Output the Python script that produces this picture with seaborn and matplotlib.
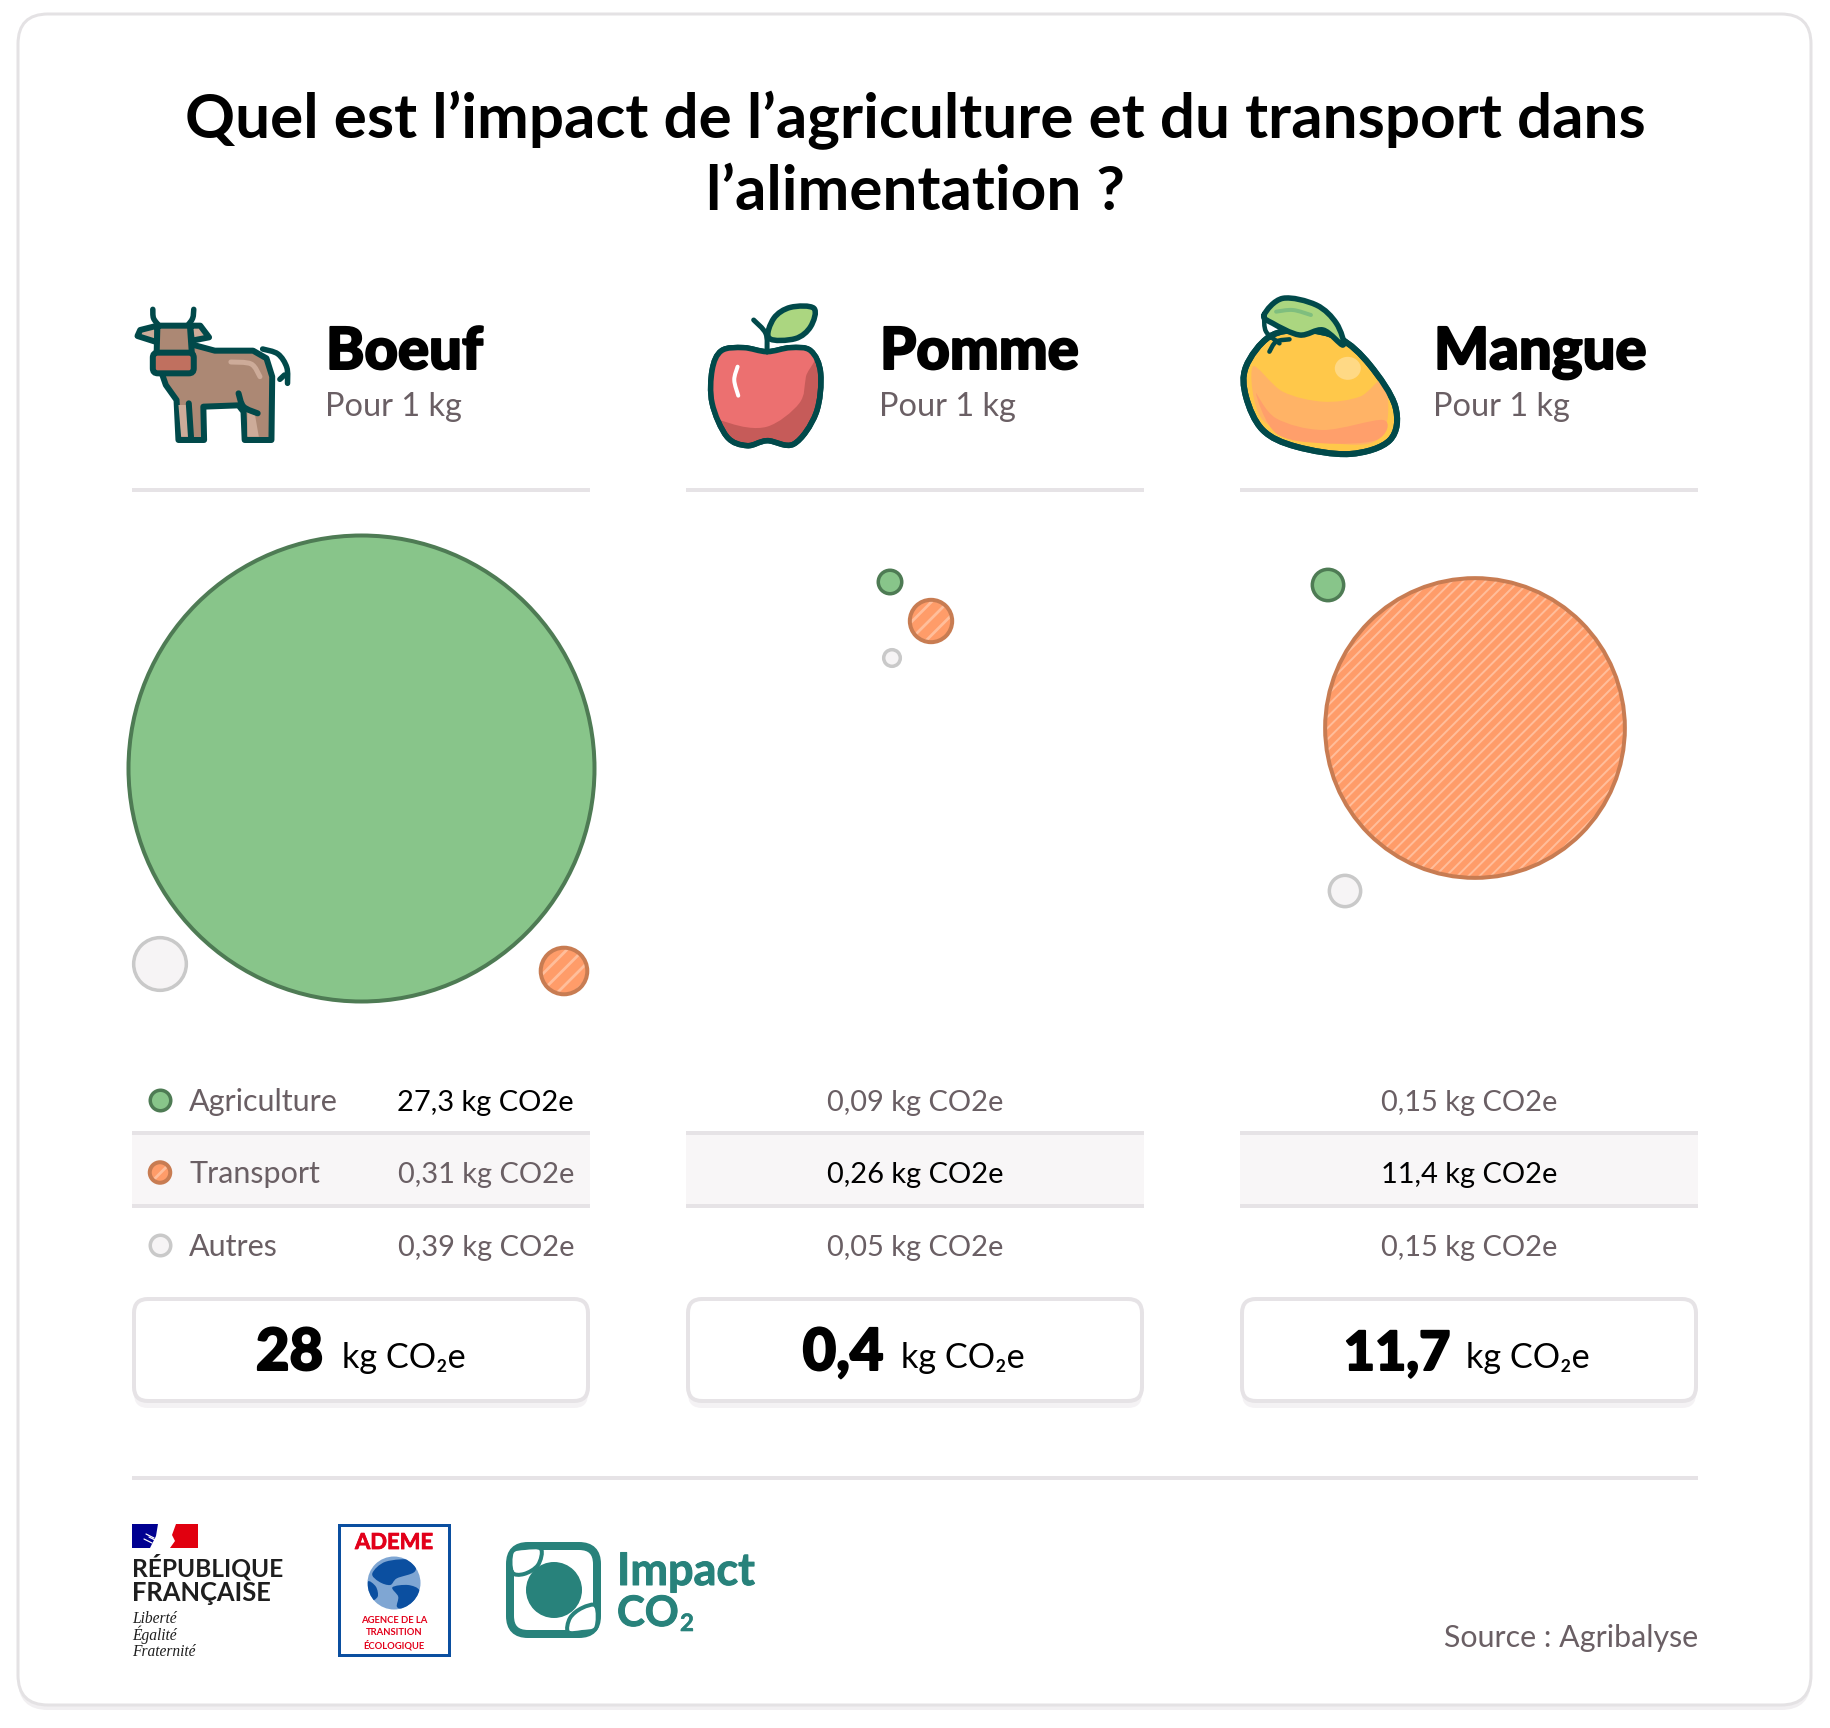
import numpy as np
import pandas as pd
import seaborn as sns
import matplotlib.pyplot as plt
import matplotlib.patheffects as pe
from matplotlib.patches import FancyBboxPatch, PathPatch, Rectangle, Ellipse
from matplotlib.path import Path

# values
foods = ['Boeuf', 'Pomme', 'Mangue']
agriculture = [27.3, 0.09, 0.15]
transport = [0.31, 0.26, 11.4]
autres = [0.39, 0.05, 0.15]
totals = [28, 0.4, 11.7]
kinds = ['Agriculture', 'Transport', 'Autres']

# bubble centres as they sit on the picture, in pixels
agriculture_x = [361, 890, 1328]
agriculture_y = [768, 582, 585]
transport_x = [564, 931, 1475]
transport_y = [971, 621, 728]
autres_x = [160, 892, 1345]
autres_y = [964, 658, 891]

DARK = '#01494A'
GREY = '#6A5F64'
RULE = '#E6E3E6'
TEAL = '#28827B'
RED = '#E2001A'
BLUE = '#0B4FA0'
PX = 0.72  # px to pt at dpi 100
R_TOP = 235  # outer radius of the biggest bubble

sns.set_theme(style='white')
plt.rcParams['font.family'] = ['Lato', 'DejaVu Sans']

fig = plt.figure(figsize=(18.3, 17.28), dpi=100)
ax = fig.add_axes([0, 0, 1, 1])


def txt(x, y, s, size, color='black', weight='normal', ha='left', heavy=0, **kw):
    t = ax.text(x, y, s, fontsize=size * PX, color=color, fontweight=weight,
                ha=ha, va='baseline', zorder=6, **kw)
    if heavy:
        t.set_path_effects([pe.withStroke(linewidth=heavy * PX, foreground=color)])
    return t


def rule(x0, x1, y):
    ax.add_patch(Rectangle((x0, y - 2), x1 - x0, 4, fc=RULE, ec='none', zorder=2))


def round_box(x0, y0, x1, y1, r, fc, ec, lw, z=1):
    p = FancyBboxPatch((x0, y0), x1 - x0, y1 - y0, boxstyle=f'round,pad=0,rounding_size={r}',
                       fc=fc, ec=ec, lw=lw * PX, zorder=z)
    ax.add_patch(p)
    return p


def smooth_path(pts, closed=True):
    # catmull-rom through the points, turned into bezier segments
    pts = np.array(pts, dtype=float)
    n = len(pts)
    verts = [pts[0]]
    codes = [Path.MOVETO]
    last = n if closed else n - 1
    for i in range(last):
        if closed:
            p0, p1, p2, p3 = pts[i - 1], pts[i], pts[(i + 1) % n], pts[(i + 2) % n]
        else:
            p0, p1, p2, p3 = pts[max(i - 1, 0)], pts[i], pts[i + 1], pts[min(i + 2, n - 1)]
        verts += [p1 + (p2 - p0) / 6, p2 - (p3 - p1) / 6, p2]
        codes += [Path.CURVE4] * 3
    return Path(verts, codes)


def blob(pts, fc, ec='none', lw=0, z=5, closed=True, clip=None):
    p = PathPatch(smooth_path(pts, closed), fc=fc if closed else 'none', ec=ec, lw=lw * PX,
                  zorder=z, capstyle='round', joinstyle='round')
    ax.add_patch(p)
    if clip is not None:
        p.set_clip_path(clip)
    return p


def poly(pts, fc, ec=DARK, lw=6, z=5):
    p = PathPatch(Path(pts), fc=fc, ec=ec, lw=lw * PX, zorder=z, joinstyle='round', capstyle='round')
    ax.add_patch(p)
    return p


def cow_pts(pts):
    return [(100 + x / 2.613, 280 + y / 3) for x, y in pts]


def fruit_pts(pts):
    return [(680 + x / 1.493, 280 + y / 3) for x, y in pts]


def logo_pts(pts):
    return [(100 + x / 2.24, 1500 + y / 3) for x, y in pts]


def draw_cow():
    body = [(245, 195), (300, 212), (400, 212), (435, 235), (450, 290), (448, 480), (378, 480),
            (375, 395), (362, 376), (270, 380), (272, 480), (205, 480), (200, 360), (172, 315),
            (160, 275), (150, 200)]
    poly(cow_pts(body + [body[0]]), '#AC8874')
    poly(cow_pts([(205, 375), (232, 375), (238, 470), (212, 470)]), '#CDAB99', ec='none', lw=0, z=5.1)
    poly(cow_pts([(385, 395), (405, 405), (415, 470), (385, 470)]), '#CDAB99', ec='none', lw=0, z=5.1)
    blob(cow_pts([(232, 370), (238, 475)]), 'none', DARK, 6, 5.2, closed=False)
    blob(cow_pts([(362, 340), (375, 380), (412, 400)]), 'none', DARK, 6, 5.2, closed=False)
    blob(cow_pts([(342, 246), (395, 252), (418, 290)]), 'none', '#CDAB99', 5, 5.2, closed=False)
    # tail
    blob(cow_pts([(425, 207), (465, 222), (488, 262), (490, 310)]), 'none', DARK, 5.5, 5, closed=False)
    blob(cow_pts([(482, 285), (470, 298)]), 'none', DARK, 5.5, 5, closed=False)
    # ears and horns
    poly(cow_pts([(150, 137), (105, 150), (98, 168), (150, 187), (150, 137)]), '#CDAB99', z=5.3)
    poly(cow_pts([(235, 137), (262, 137), (285, 172), (240, 182), (235, 137)]), '#CDAB99', z=5.3)
    blob(cow_pts([(138, 88), (140, 115), (155, 138)]), 'none', DARK, 5.5, 5.3, closed=False)
    blob(cow_pts([(245, 88), (242, 115), (228, 138)]), 'none', DARK, 5.5, 5.3, closed=False)
    poly(cow_pts([(150, 137), (235, 137), (240, 220), (148, 220), (150, 137)]), '#AC8874', z=5.4)
    # muzzle
    x0, y0 = cow_pts([(138, 218)])[0]
    x1, y1 = cow_pts([(245, 280)])[0]
    round_box(x0, y0, x1, y1, 5, '#C0705F', DARK, 6, z=5.5)


def draw_apple():
    shape = [(130, 215), (165, 203), (195, 212), (210, 280), (203, 400), (170, 492), (130, 482),
             (100, 497), (70, 470), (48, 370), (48, 270), (62, 212), (95, 203)]
    edge = blob(fruit_pts(shape), '#C65B59', DARK, 5.5, 5)
    blob(fruit_pts([(40, 200), (195, 200), (188, 290), (178, 370), (130, 440), (75, 430), (40, 380)]),
         '#EC7070', z=5.1, clip=edge)
    blob(fruit_pts(shape), 'none', DARK, 5.5, 5.2).set_facecolor('none')
    blob(fruit_pts([(86, 260), (81, 300), (87, 347)]), 'none', 'white', 4, 5.3, closed=False)
    blob(fruit_pts([(110, 120), (128, 160), (130, 212)]), 'none', DARK, 5, 5.3, closed=False)
    blob(fruit_pts([(133, 175), (140, 115), (165, 82), (200, 85), (195, 140), (172, 176)]),
         '#ABD680', DARK, 5.5, 5.4)


def draw_mango():
    shape = [(880, 170), (930, 150), (985, 175), (1030, 255), (1068, 380), (1060, 480), (1000, 522),
             (920, 500), (870, 450), (845, 350), (845, 260)]
    edge = blob(fruit_pts(shape), '#FFC84A', DARK, 6, 5)
    blob(fruit_pts([(855, 260), (900, 335), (960, 365), (1015, 350), (1050, 300), (1056, 420), (1030, 490),
                    (950, 480), (870, 420)]), '#FFB366', z=5.1, clip=edge)
    blob(fruit_pts([(860, 340), (890, 415), (960, 450), (1050, 420), (1040, 480), (960, 490), (890, 460)]),
         '#FF9F6B', z=5.2, clip=edge)
    ax.add_patch(Ellipse((680 + 997 / 1.493, 280 + 265 / 3), 26, 23, fc='#FFD985', ec='none', zorder=5.2))
    blob(fruit_pts(shape), 'none', DARK, 6, 5.3).set_facecolor('none')
    blob(fruit_pts([(872, 105), (900, 55), (950, 75), (980, 130), (990, 195), (960, 150), (925, 165), (885, 130)]),
         '#ABD680', DARK, 5.5, 5.4)
    blob(fruit_pts([(890, 95), (915, 90), (942, 105)]), 'none', '#7FBE7E', 4, 5.5, closed=False)
    blob(fruit_pts([(872, 110), (875, 155), (895, 190)]), 'none', DARK, 4.5, 5.5, closed=False)
    blob(fruit_pts([(880, 215), (890, 185), (910, 178)]), 'none', DARK, 4.5, 5.5, closed=False)


def draw_logos():
    # republique francaise
    ax.add_patch(Rectangle((132, 1524), 30, 24, fc='#000091', ec='none', zorder=5))
    ax.add_patch(Rectangle((165, 1524), 33, 24, fc='#E1000F', ec='none', zorder=5))
    poly([(158, 1524), (176, 1524), (172, 1535), (175, 1541), (170, 1548), (150, 1548), (156, 1536), (158, 1524)],
         'white', ec='none', lw=0, z=5.1)
    for dx, dy in [(0, 0), (3, 3), (-2, 5)]:
        blob([(146 + dx, 1534 + dy), (154 + dx, 1538 + dy)], 'none', 'white', 1.2, 5.2, closed=False)
    txt(132, 1576, 'RÉPUBLIQUE', 24.5, '#1E1E1E', 'bold')
    txt(132, 1601, 'FRANÇAISE', 25.5, '#1E1E1E', 'bold')
    for y, s in zip([1623, 1640, 1656], ['Liberté', 'Égalité', 'Fraternité']):
        ax.text(132, y, s, fontsize=15.5 * PX, family='Liberation Serif', style='italic', color='#1E1E1E',
                zorder=6)

    # ademe
    ax.add_patch(Rectangle((339, 1525), 110, 130, fc='white', ec=BLUE, lw=3 * PX, zorder=5))
    txt(394, 1549, 'ADEME', 22, RED, 'bold', ha='center', heavy=0.8)
    globe = Ellipse((394, 1583), 53, 53, fc='#7FA6D3', ec='none', zorder=5.1)
    ax.add_patch(globe)
    blob(logo_pts([(610, 220), (640, 185), (700, 180), (705, 215), (665, 235), (650, 255), (625, 245)]),
         BLUE, z=5.2, clip=globe)
    blob(logo_pts([(655, 262), (690, 255), (715, 270), (705, 300), (680, 325), (665, 320), (668, 290)]),
         BLUE, z=5.2, clip=globe)
    blob(logo_pts([(600, 245), (618, 260), (622, 290), (605, 300)]), BLUE, z=5.2, clip=globe)
    for y, s in zip([1623, 1635, 1648], ['AGENCE DE LA', 'TRANSITION', 'ÉCOLOGIQUE']):
        txt(394, y, s, 9.5, RED, 'bold', ha='center')

    # impact co2
    round_box(510, 1546, 597, 1634, 18, 'white', TEAL, 8, z=5)
    ax.add_patch(Ellipse((554, 1590), 56, 56, fc=TEAL, ec='none', zorder=5.1))
    blob([(512, 1572), (512, 1552), (525, 1548), (541, 1549), (538, 1565), (524, 1574)], 'white', TEAL, 4, 5.2)
    blob([(596, 1606), (596, 1628), (582, 1632), (568, 1632), (570, 1618), (582, 1608)], 'white', TEAL, 4, 5.2)
    txt(617, 1585, 'Impact', 45, TEAL, 'bold', heavy=1)
    txt(617, 1626, 'CO', 42, TEAL, 'bold', heavy=1)
    txt(680, 1631, '2', 24, TEAL, 'bold', heavy=0.6)


# card
round_box(18, 18, 1811, 1710, 30, '#F1EFF1', 'none', 0, z=0)
round_box(18, 14, 1811, 1705, 30, 'white', '#E4E2E4', 3, z=0.5)

# title
txt(915, 138, 'Quel est l’impact de l’agriculture et du transport dans', 62, 'black', 'bold', ha='center')
txt(915, 210, 'l’alimentation ?', 62, 'black', 'bold', ha='center')

col_left = [132, 686, 1240]
col_right = [590, 1144, 1698]
head_x = [326, 880, 1434]
row_text_y = [1111, 1183, 1256]
unit_x = [342, 901, 1466]
num_center = [289.5, 843, 1397]
num_size = [58, 58, 54]

# bubbles: outer radius goes with the square root of the value, stroke sits inside it
bubbles = pd.DataFrame({
    'food': foods * 3,
    'kind': [k for k in kinds for _ in foods],
    'value': agriculture + transport + autres,
    'x': agriculture_x + transport_x + autres_x,
    'y': agriculture_y + transport_y + autres_y,
})
bubbles['stroke'] = np.where(bubbles['value'] > 1, 4.0, 3.5)
bubbles['radius'] = R_TOP * np.sqrt(bubbles['value'] / max(agriculture)) - bubbles['stroke'] / 2
bubbles['area'] = (2 * bubbles['radius'] * PX) ** 2

GREEN_FILL, GREEN_EDGE = '#88C58A', '#4E7B54'
ORANGE_FILL, ORANGE_STRIPE, ORANGE_EDGE = '#FF9C69', '#FFBE9B', '#C87C52'
GREY_FILL, GREY_EDGE = '#F6F4F5', '#C9C9C9'


def plain_dots(df, fill, edge, lw, s):
    sns.scatterplot(data=df, x='x', y='y', s=s, color=fill, edgecolor=edge, linewidth=lw * PX,
                    legend=False, ax=ax, zorder=4)


def striped_dots(df, s, hatch, hatch_lw):
    # stripes take the edge colour, so the stroke goes on as a second layer
    plt.rcParams['hatch.linewidth'] = hatch_lw
    sns.scatterplot(data=df, x='x', y='y', s=s, color=ORANGE_FILL, edgecolor=ORANGE_STRIPE, linewidth=0,
                    hatch=hatch, legend=False, ax=ax, zorder=4)
    sns.scatterplot(data=df, x='x', y='y', s=s, facecolor='none', edgecolor=ORANGE_EDGE, linewidth=4 * PX,
                    legend=False, ax=ax, zorder=4.1)


b_agri = bubbles[bubbles['kind'] == 'Agriculture']
b_autres = bubbles[bubbles['kind'] == 'Autres']
b_trans = bubbles[bubbles['kind'] == 'Transport']
big_agri = b_agri[b_agri['value'] > 1]
small_agri = b_agri[b_agri['value'] <= 1]
plain_dots(big_agri, GREEN_FILL, GREEN_EDGE, 4, big_agri['area'].values)
plain_dots(small_agri, GREEN_FILL, GREEN_EDGE, 3.5, small_agri['area'].values)
plain_dots(b_autres, GREY_FILL, GREY_EDGE, 3.5, b_autres['area'].values)
small = b_trans[b_trans['value'] < 1]
large = b_trans[b_trans['value'] >= 1]
striped_dots(small, small['area'].values, '//', 2.0)
striped_dots(large, large['area'].values, '///', 1.4)

# legend dots in first column
legend_x = [160, 160, 160]
legend_y = [1100, 1172.5, 1244.5]
legend_df = pd.DataFrame({'kind': kinds, 'x': legend_x, 'y': legend_y})
dot_s = (20.5 * PX) ** 2
plain_dots(legend_df[legend_df['kind'] == 'Agriculture'], GREEN_FILL, GREEN_EDGE, 3.5, dot_s)
plain_dots(legend_df[legend_df['kind'] == 'Autres'], GREY_FILL, GREY_EDGE, 3.5, dot_s)
striped_dots(legend_df[legend_df['kind'] == 'Transport'], dot_s, '//', 2.0)

for i, food in enumerate(foods):
    x0, x1 = col_left[i], col_right[i]
    xc = (x0 + x1) / 2
    txt(head_x[i], 369, food, 58, 'black', 'black', heavy=2)
    txt(head_x[i] - 1, 416, 'Pour 1 kg', 32.5, GREY)
    rule(x0, x1, 490)

    # table rows
    ax.add_patch(Rectangle((x0, 1133), x1 - x0, 73, fc='#F8F6F7', ec='none', zorder=1))
    rule(x0, x1, 1133)
    rule(x0, x1, 1206)
    vals = [agriculture[i], transport[i], autres[i]]
    top = int(np.argmax(vals))
    for j, v in enumerate(vals):
        s = f'{v} kg CO2e'.replace('.', ',')
        c = 'black' if j == top else GREY
        if i == 0:
            txt(574, row_text_y[j], s, 29, c, ha='right')
            txt(189, row_text_y[j], kinds[j], 30.5, GREY)
        else:
            txt(xc, row_text_y[j], s, 29, c, ha='center')

    # total box
    round_box(x0 + 2, 1306, x1 - 2, 1408, 14, '#F4F2F4', 'none', 0, z=1)
    round_box(x0 + 2, 1299, x1 - 2, 1401, 14, 'white', RULE, 4, z=2)
    txt(num_center[i], 1370, f'{totals[i]}'.replace('.', ','), num_size[i], 'black', 'black', ha='center', heavy=2)
    txt(unit_x[i], 1368, 'kg CO₂e', 34.3, 'black')

rule(132, 1698, 1478)
txt(1698, 1647, 'Source : Agribalyse', 30.4, GREY, ha='right')

draw_cow()
draw_apple()
draw_mango()
draw_logos()

ax.set_xlim(0, 1830)
ax.set_ylim(1728, 0)
ax.axis('off')

fig.savefig('out.png', dpi=100, facecolor='white')
